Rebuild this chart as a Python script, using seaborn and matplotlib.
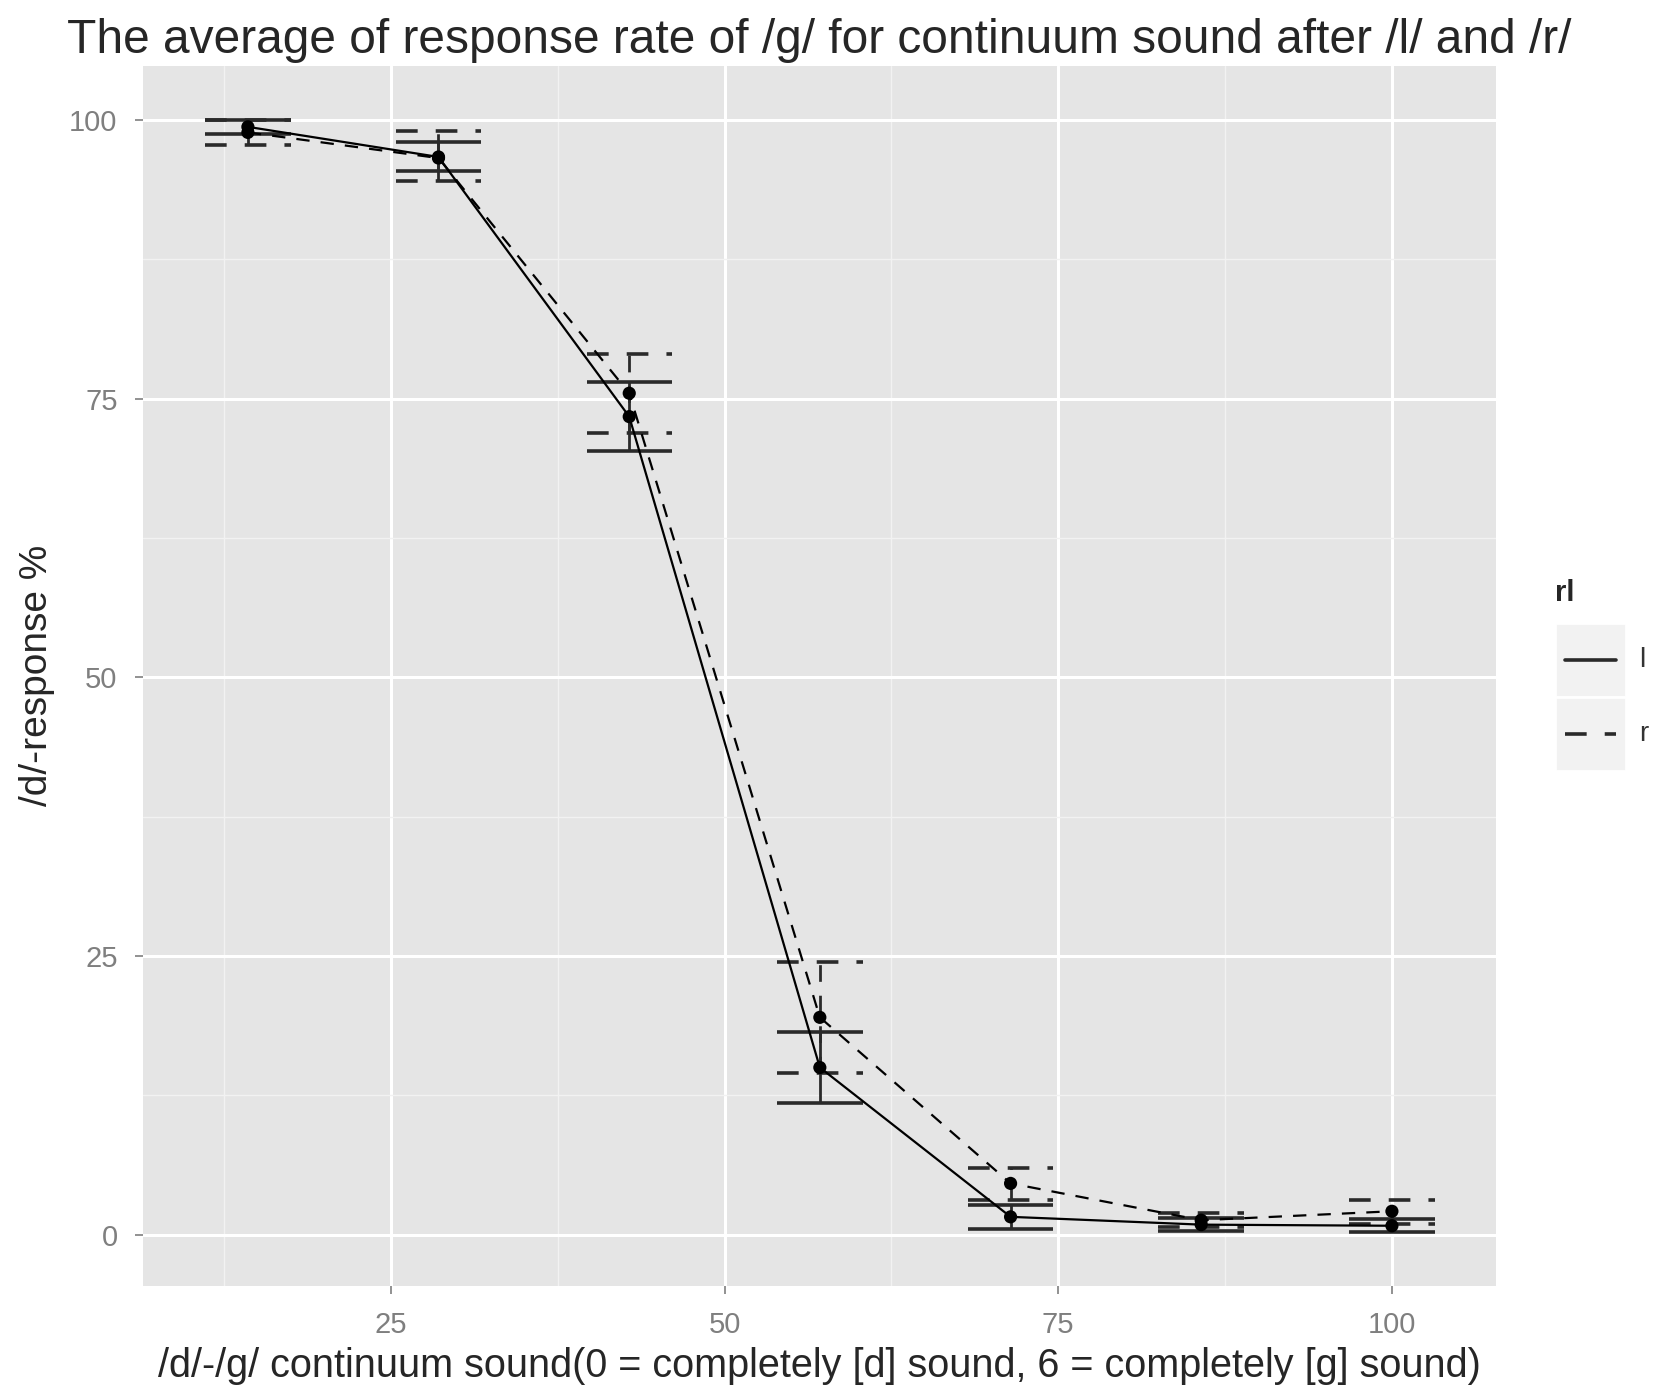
import matplotlib
matplotlib.use('Agg')
import matplotlib.pyplot as plt
import numpy as np
import pandas as pd
import seaborn as sns
from matplotlib.patches import Rectangle

# continuum steps (percent of the way from [d] to [g])
steps = [14.29, 28.57, 42.86, 57.14, 71.43, 85.71, 100.0]

# mean /d/-response per step, after /l/ and after /r/
mean_l = [99.4, 96.7, 73.4, 15.0, 1.6, 0.9, 0.8]
mean_r = [98.9, 96.6, 75.5, 19.5, 4.6, 1.3, 2.1]

# error bar ends
low_l = [98.8, 95.4, 70.3, 11.8, 0.55, 0.3, 0.2]
high_l = [100.0, 98.0, 76.5, 18.2, 2.65, 1.5, 1.45]
low_r = [97.8, 94.5, 71.9, 14.5, 3.1, 0.7, 1.0]
high_r = [100.0, 99.0, 79.0, 24.5, 5.95, 1.95, 3.1]

groups = ['l', 'r']

df = pd.DataFrame({
    'x': steps * 2,
    'resp': mean_l + mean_r,
    'low': low_l + low_r,
    'high': high_l + high_r,
    'rl': ['l'] * len(steps) + ['r'] * len(steps),
})

sns.set_style('darkgrid', {'axes.facecolor': '#E5E5E5', 'grid.color': 'white'})
plt.rcParams['font.family'] = ['Liberation Sans', 'DejaVu Sans']

fig = plt.figure(figsize=(16.56, 13.89), dpi=100)
ax = fig.add_axes([0.0861, 0.0742, 0.9034 - 0.0861, 0.9528 - 0.0742])

dash_pat = (6, 5)
styles = {'l': 'solid', 'r': (0, dash_pat)}

# error bars, drawn per group with the group's linetype
for g in groups:
    d = df[df['rl'] == g]
    half = 3.2
    ax.vlines(d['x'], d['low'], d['high'], colors='#2a2a2a', linewidth=2.0,
              linestyles=[styles[g]], zorder=3)
    ax.hlines(d['low'], d['x'] - half, d['x'] + half, colors='#2a2a2a',
              linewidth=2.6, linestyles=[styles[g]], zorder=3)
    ax.hlines(d['high'], d['x'] - half, d['x'] + half, colors='#2a2a2a',
              linewidth=2.6, linestyles=[styles[g]], zorder=3)

sns.lineplot(data=df, x='x', y='resp', style='rl', color='black',
             dashes={'l': '', 'r': dash_pat}, linewidth=1.6, ax=ax,
             legend=False, zorder=4)
sns.scatterplot(data=df, x='x', y='resp', color='black', s=90,
                edgecolor='none', ax=ax, legend=False, zorder=5)

ax.set_xlim(6.4, 107.8)
ax.set_ylim(-4.6, 104.9)
ax.set_xticks([25, 50, 75, 100])
ax.set_yticks([0, 25, 50, 75, 100])
ax.set_xticks([12.5, 37.5, 62.5, 87.5], minor=True)
ax.set_yticks([12.5, 37.5, 62.5, 87.5], minor=True)
ax.grid(which='major', color='white', linewidth=2.2)
ax.grid(which='minor', color='#F2F2F2', linewidth=1.0)
ax.tick_params(axis='both', which='major', labelsize=21, labelcolor='#7F7F7F',
               color='#7F7F7F', length=6, width=1.2, direction='out',
               bottom=True, left=True, pad=12)
ax.tick_params(which='minor', length=0)
for s in ax.spines.values():
    s.set_visible(False)

ax.set_xlabel('/d/-/g/ continuum sound(0 = completely [d] sound, 6 = completely [g] sound)',
              fontsize=28.5, labelpad=6)
ax.set_ylabel('/d/-response %', fontsize=28, labelpad=10)
ax.set_title('The average of response rate of /g/ for continuum sound after /l/ and /r/',
             fontsize=34.5, pad=9)

# legend in ggplot style: grey key boxes
fig.text(1555 / 1656, 1 - 593 / 1389, 'rl', fontsize=21, fontweight='bold',
         va='center', ha='left')
key_w, key_h = 71 / 1656, 74 / 1389
key_x = 1555 / 1656
for i, g in enumerate(groups):
    ky = 1 - (623 + 74 * (i + 1)) / 1389
    fig.patches.append(Rectangle((key_x, ky), key_w, key_h, transform=fig.transFigure,
                                 facecolor='#F2F2F2', edgecolor='white', linewidth=2))
    fig.lines.append(plt.Line2D([key_x + 0.006, key_x + key_w - 0.006],
                                [ky + key_h / 2] * 2, transform=fig.transFigure,
                                color='#2a2a2a', linewidth=2.6, linestyle=styles[g]))
    fig.text(key_x + key_w + 0.008, ky + key_h / 2, g, fontsize=20, va='center',
             ha='left', color='#333333')

fig.savefig('out.png', dpi=100)
